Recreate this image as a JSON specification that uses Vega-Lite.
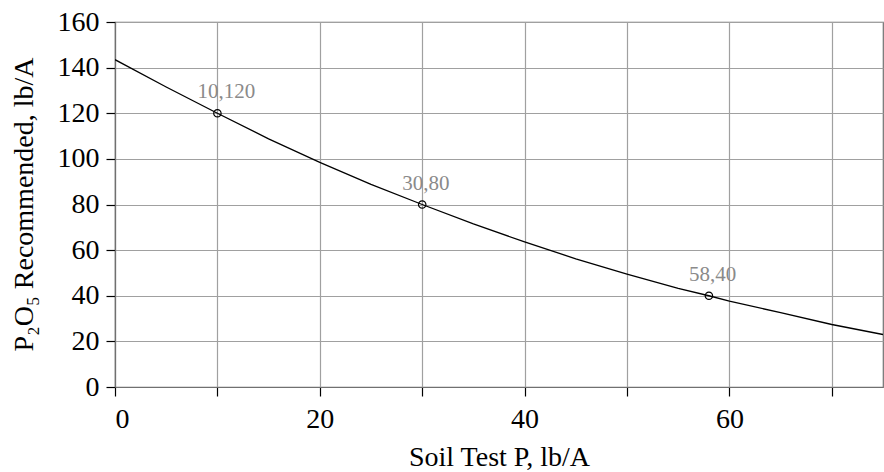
{
  "$schema": "https://vega.github.io/schema/vega-lite/v6.json",
  "autosize": {"type": "none"},
  "padding": {"left": 115, "top": 22, "right": 1, "bottom": 85},
  "width": 768,
  "height": 365,
  "background": "white",
  "config": {
    "font": "Liberation Serif",
    "view": {"stroke": "#707070", "strokeWidth": 1.2},
    "axis": {
      "labelFont": "Liberation Serif",
      "titleFont": "Liberation Serif",
      "labelFontSize": 28,
      "titleFontSize": 28,
      "labelColor": "black",
      "titleColor": "black",
      "titleFontWeight": "normal",
      "gridColor": "#a0a0a0",
      "gridWidth": 1.2,
      "gridOpacity": 1,
      "domainColor": "#707070",
      "domainWidth": 1.2,
      "tickColor": "black",
      "tickSize": 9,
      "tickWidth": 1.2
    }
  },
  "datasets": {
    "curve": [
      {"x": 0, "y": 143.5},
      {"x": 5, "y": 131.5},
      {"x": 10, "y": 120},
      {"x": 15, "y": 108.8},
      {"x": 20, "y": 98.5},
      {"x": 25, "y": 88.8},
      {"x": 30, "y": 80},
      {"x": 35, "y": 71.5},
      {"x": 40, "y": 63.6},
      {"x": 45, "y": 56.2},
      {"x": 50, "y": 49.5},
      {"x": 55, "y": 43.2},
      {"x": 58, "y": 40},
      {"x": 60, "y": 37.6},
      {"x": 65, "y": 32.6},
      {"x": 70, "y": 27.4},
      {"x": 75, "y": 23}
    ],
    "pts": [
      {"x": 10, "y": 120, "label": "10,120"},
      {"x": 30, "y": 80, "label": "30,80"},
      {"x": 58, "y": 40, "label": "58,40"}
    ]
  },
  "encoding": {
    "x": {
      "field": "x",
      "type": "quantitative",
      "scale": {"domain": [0, 75], "nice": false, "zero": false},
      "axis": {
        "title": "Soil Test P, lb/A",
        "values": [0, 10, 20, 30, 40, 50, 60, 70],
        "labelExpr": "datum.value % 20 === 0 ? datum.label : ''",
        "labelBaseline": "alphabetic",
        "labelPadding": 31,
        "titleBaseline": "alphabetic",
        "titleY": 78,
        "titlePadding": 0
      }
    },
    "y": {
      "field": "y",
      "type": "quantitative",
      "scale": {"domain": [0, 160], "nice": false},
      "axis": {
        "title": "P₂O₅ Recommended, lb/A",
        "values": [0, 20, 40, 60, 80, 100, 120, 140, 160],
        "labelPadding": 7,
        "titleAngle": -90,
        "titleBaseline": "alphabetic",
        "titleX": -83,
        "titleY": 182,
        "titleAlign": "center"
      }
    }
  },
  "layer": [
    {
      "data": {"name": "curve"},
      "mark": {"type": "line", "color": "black", "strokeWidth": 1.3, "clip": true}
    },
    {
      "data": {"name": "pts"},
      "mark": {"type": "point", "shape": "circle", "filled": false, "color": "black", "size": 55, "strokeWidth": 1.2, "opacity": 1}
    },
    {
      "data": {"name": "pts"},
      "mark": {"type": "text", "align": "left", "baseline": "alphabetic", "dx": -20, "dy": -15, "fontSize": 21, "color": "#8a8a8a", "font": "Liberation Serif"},
      "encoding": {"text": {"field": "label"}}
    }
  ]
}
